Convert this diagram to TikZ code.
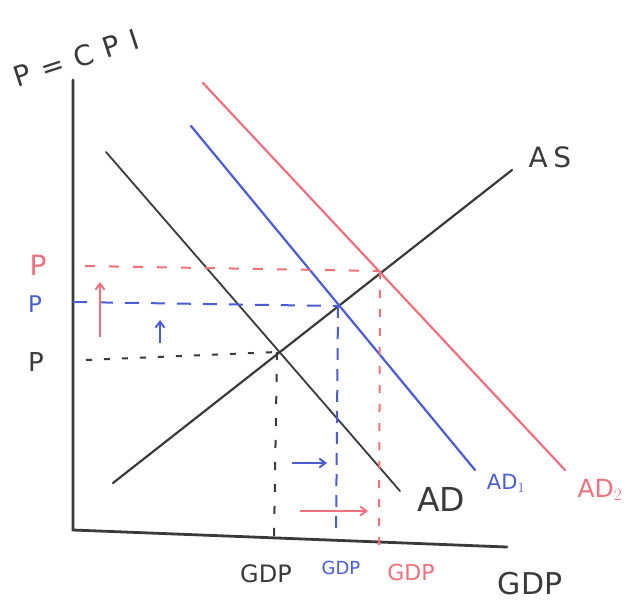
\documentclass[tikz,border=0pt]{standalone}
\usepackage{fontspec}
\setmainfont{DejaVu Sans}
\usetikzlibrary{arrows.meta}
\definecolor{ink}{HTML}{3A3A3A}
\definecolor{bl}{HTML}{4A5CD6}
\definecolor{rd}{HTML}{F0707E}
\tikzset{
  curve/.style={line width=2.2pt, line cap=round},
  axis/.style={line width=2.8pt, draw=ink, line cap=round},
  guide/.style={line width=2pt, dash pattern=on 8pt off 10pt},
  shiftarrow/.style={line width=2pt, -{Straight Barb[length=6pt,width=9pt]}},
  lbl/.style={inner sep=0pt},
}
\newcommand{\fs}[1]{\fontsize{#1}{#1}\selectfont}
\begin{document}
\begin{tikzpicture}[x=1pt,y=-1pt]
\useasboundingbox (0,0) rectangle (634,607);
% axes
\coordinate (ytop) at (73,80);
\coordinate (orig) at (73,530);
\coordinate (xend) at (507,547);
\draw[axis] (ytop) -- (orig) -- (xend);
% curves
\coordinate (as1) at (113,483); \coordinate (as2) at (512,170);
\coordinate (ad1) at (106,152); \coordinate (ad2) at (400,491);
\coordinate (bd1) at (191,126); \coordinate (bd2) at (475,470);
\coordinate (rd1) at (203,83);  \coordinate (rd2) at (565,470);
\draw[curve, ink] (as1) -- (as2);
\draw[curve, ink, line width=1.8pt] (ad1) -- (ad2);
\draw[curve, bl] (bd1) -- (bd2);
\draw[curve, rd] (rd1) -- (rd2);
% equilibria
\coordinate (e0) at (277,352);
\coordinate (e1) at (338,306);
\coordinate (e2) at (380,271);
% guides
\coordinate (p0) at (86,360);  \coordinate (g0) at (274,538);
\coordinate (p1) at (73,302);  \coordinate (g1) at (336,536);
\coordinate (p2) at (85,266);  \coordinate (g2) at (379,545);
\draw[guide, ink, dash pattern=on 6pt off 12pt] (p0) -- (e0);
\draw[guide, ink, dash pattern=on 8pt off 14pt] (e0) -- (g0);
\draw[guide, bl, dash pattern=on 14pt off 12pt] (p1) -- (e1);
\draw[guide, bl, dash pattern=on 12pt off 9pt] (e1) -- (g1);
\draw[guide, rd, dash pattern=on 10pt off 14pt] (p2) -- (e2);
\draw[guide, rd, dash pattern=on 8pt off 11pt] (e2) -- (g2);
% shift arrows
\coordinate (ra1) at (100,337); \coordinate (ra2) at (100,282);
\coordinate (ba1) at (160,343); \coordinate (ba2) at (160,320);
\coordinate (bh1) at (292,463); \coordinate (bh2) at (327,463);
\coordinate (rh1) at (300,511); \coordinate (rh2) at (368,511);
\draw[shiftarrow, rd] (ra1) -- (ra2);
\draw[shiftarrow, bl] (ba1) -- (ba2);
\draw[shiftarrow, bl] (bh1) -- (bh2);
\draw[shiftarrow, rd] (rh1) -- (rh2);
% labels
\node[lbl, ink, rotate=18] (ylab) at (76,58) {\fs{28}\addfontfeature{LetterSpace=40}P=CPI};
\node[lbl, ink] (aslab) at (550,157) {\fs{28}\addfontfeature{LetterSpace=20}AS};
\node[lbl, ink] (adlab) at (441,499) {\fs{33}AD};
\node[lbl, bl] (ad1lab) at (506,483) {\fs{21}AD$_1$};
\node[lbl, rd] (ad2lab) at (600,490) {\fs{25}AD$_2$};
\node[lbl, rd] (pr) at (38,265) {\fs{28}P};
\node[lbl, bl] (pb) at (35,304) {\fs{23}P};
\node[lbl, ink] (pk) at (36,362) {\fs{26}P};
\node[lbl, ink] (gk) at (266,574) {\fs{24}GDP};
\node[lbl, bl] (gb) at (341,568) {\fs{18}GDP};
\node[lbl, rd] (gr) at (411,572) {\fs{22}GDP};
\node[lbl, ink] (gx) at (530,584) {\fs{30}GDP};
\end{tikzpicture}
\end{document}
